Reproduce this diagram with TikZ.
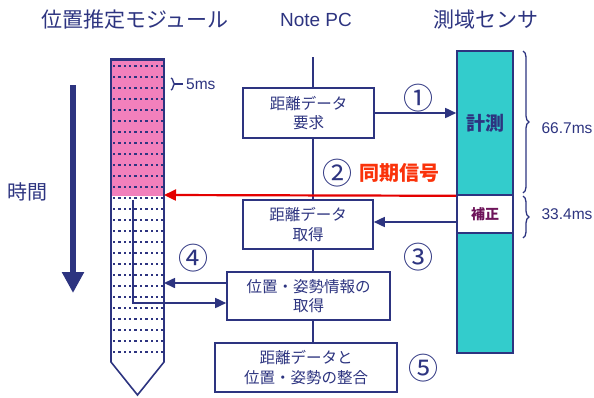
\documentclass[tikz,border=0pt]{standalone}
\usepackage{fontspec}
\setmainfont{Liberation Sans}
\newfontfamily\jp{Noto Sans CJK JP}
\usetikzlibrary{arrows.meta,decorations.pathreplacing}
\definecolor{navy}{RGB}{45,52,128}
\definecolor{pinkc}{RGB}{242,128,188}
\definecolor{tealc}{RGB}{51,204,204}
\definecolor{redc}{RGB}{228,0,0}
\definecolor{orred}{RGB}{250,50,10}
\definecolor{purp}{RGB}{110,20,90}
\tikzset{
  box/.style={draw=navy, line width=1.6pt, fill=white, text=navy, align=center, inner sep=0pt,
    font=\jp\fontsize{15.5}{19.5}\selectfont},
  lbl/.style={text=navy, inner sep=0pt},
  arr/.style={draw=navy, line width=1.6pt, -{Triangle[length=11pt,width=10pt]}},
  redarr/.style={draw=redc, line width=2.2pt, -{Triangle[length=12pt,width=11pt]}},
  brc/.style={draw=navy, line width=1.3pt, decorate},
  circnum/.style={text=navy, inner sep=0pt, font=\jp\fontsize{30}{30}\selectfont},
  sens/.style={draw=navy, line width=1.6pt, minimum width=56pt, inner sep=0pt},
}
\begin{document}
\begin{tikzpicture}[x=1pt,y=-1pt]
\useasboundingbox (0,0) rectangle (594,397);
% titles
\node[lbl, font=\jp\fontsize{21}{21}\selectfont] (t1) at (135,20) {位置推定モジュール};
\node[lbl, font=\fontsize{19}{19}\selectfont] (t2) at (316,20) {Note PC};
\node[lbl, font=\jp\fontsize{21}{21}\selectfont] (t3) at (486,20) {測域センサ};
\node[lbl, font=\jp\fontsize{20}{20}\selectfont] (time) at (28,192) {時間};
% time arrow
\coordinate (ta) at (73,85);
\coordinate (tb) at (73,293);
\draw[navy, line width=6pt, -{Triangle[length=21pt,width=21pt]}] (ta) -- (tb);
% module column
\fill[pinkc] (111,59) rectangle (164,196);
\foreach \r in {0,...,26} {
  \foreach \c in {0,...,9} {
    \fill[navy] ({114+5.4*\c-1.2},{66+11*\r-1.2}) rectangle ++(2.4,2.4);
  }
}
\draw[navy, line width=1.6pt, line join=miter] (164,59) -- (164,362) -- (137.5,395) -- (111,362) -- (111,59);
\draw[navy, line width=3pt] (110.2,59) -- (164.8,59);
\coordinate (colR) at (164,195);
\coordinate (colA) at (164,283);
\coordinate (colV) at (133,200);
% 5ms brace
\coordinate (b5a) at (171,78);
\coordinate (b5b) at (171,90);
\draw[brc, decoration={brace, amplitude=4pt}] (b5a) -- (b5b);
\draw[navy, line width=1.3pt] (175,84) -- (183,84);
\node[lbl, font=\fontsize{15.5}{15.5}\selectfont, anchor=west] (ms5) at (186,84) {5ms};
% Note PC boxes
\coordinate (npc) at (313,57);
\node[box, minimum width=131pt, minimum height=50pt] (b1) at (308.5,113) {距離データ\\要求};
\node[box, minimum width=130pt, minimum height=49pt] (b2) at (308,224.5) {距離データ\\取得};
\node[box, minimum width=163pt, minimum height=48pt] (b3) at (308.5,296) {位置・姿勢情報の\\取得};
\node[box, minimum width=182pt, minimum height=49pt] (b4) at (306,367.5) {距離データと\\位置・姿勢の整合};
\draw[navy, line width=1.6pt] (npc) -- (npc |- b1.north);
\draw[navy, line width=1.6pt] (b1.south -| npc) -- (b2.north -| npc);
\draw[navy, line width=1.6pt] (b2.south -| npc) -- (b3.north -| npc);
\draw[navy, line width=1.6pt] (b3.south -| npc) -- (b4.north -| npc);
% sensor
\node[sens, fill=tealc, minimum height=144pt, text=navy, font=\jp\bfseries\fontsize{19}{19}\selectfont] (keis) at (485,123) {計測};
\node[sens, fill=white, minimum height=38pt, text=purp, font=\jp\bfseries\fontsize{14}{14}\selectfont] (hosei) at (485,214) {補正};
\node[sens, fill=tealc, minimum height=120pt] (low) at (485,293) {};
% braces
\coordinate (bAa) at (523,51);
\coordinate (bAb) at (523,193);
\coordinate (bBa) at (523,196);
\coordinate (bBb) at (523,238);
\draw[brc, decoration={brace, amplitude=6pt}] (bAa) -- (bAb);
\draw[brc, decoration={brace, amplitude=6pt}] (bBa) -- (bBb);
\node[lbl, font=\fontsize{15.5}{15.5}\selectfont] (m66) at (567,128) {66.7ms};
\node[lbl, font=\fontsize{15.5}{15.5}\selectfont] (m33) at (567,214) {33.4ms};
% arrows
\draw[arr] (b1.east) -- (b1.east -| keis.west);
\draw[redarr] (keis.south west) -- (colR);
\coordinate (a3) at (0,222);
\draw[arr] (hosei.west |- a3) -- (b2.east |- a3);
\draw[arr] (b3.west |- colA) -- (colA);
\coordinate (a4) at (0,303);
\draw[arr] (colV) -- (colV |- a4) -- (b3.west |- a4);
% circled numbers
\node[circnum] (n1) at (418,98) {①};
\node[circnum] (n2) at (337,173) {②};
\node[lbl, text=orred, anchor=west, font=\jp\bfseries\fontsize{20}{20}\selectfont] (sync) at (359,173) {同期信号};
\node[circnum] (n3) at (418,257) {③};
\node[circnum] (n4) at (193,258) {④};
\node[circnum] (n5) at (423,368) {⑤};
\end{tikzpicture}
\end{document}
